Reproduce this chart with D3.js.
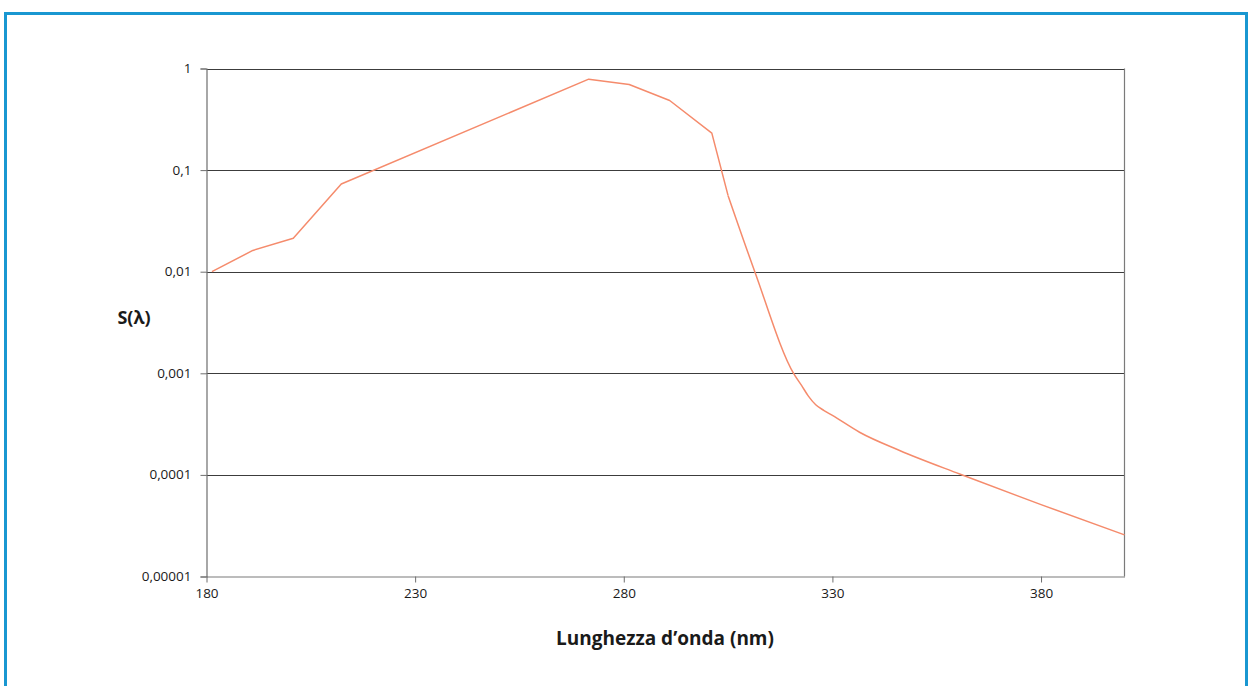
<!DOCTYPE html>
<html>
<head>
<meta charset="utf-8">
<script src="https://cdn.jsdelivr.net/npm/d3@7"></script>
<style>
  html, body { margin: 0; padding: 0; background: #fff; }
  svg { display: block; }
  text { font-family: "Open Sans", "DejaVu Sans", sans-serif; fill: #1a1a1a; }
</style>
</head>
<body>
<svg id="chart" width="1248" height="686"></svg>
<script>
// ---- data ----
const wavelength = [181.3, 191.1, 200.8, 212.3, 271.6, 281.3, 291.0, 301.1, 305.0, 311.4, 320.8, 322.6, 324.2, 326.0, 328.0, 330.0, 336.5, 346.1, 360.5, 380.0, 400.0];
const sensitivity = [0.0100, 0.0162, 0.0213, 0.073, 0.785, 0.696, 0.484, 0.231, 0.056, 0.0100, 0.00098, 0.00076, 0.00060, 0.00049, 0.00043, 0.000385, 0.000263, 0.000174, 0.000102, 0.000051, 0.0000257];
const xTicks = [180, 230, 280, 330, 380];
const yTicks = [1, 0.1, 0.01, 0.001, 0.0001, 0.00001];
const yTickLabels = ["1", "0,1", "0,01", "0,001", "0,0001", "0,00001"];
const xTitle = "Lunghezza d\u2019onda (nm)";
const yTitle = "S(\u03BB)";

const svg = d3.select("#chart");

// frame
svg.append("path")
  .attr("d", "M5.5,700 V13.5 H1246.5 V700")
  .attr("fill", "none")
  .attr("stroke", "#1997d1")
  .attr("stroke-width", 3);

const x = d3.scaleLinear().domain([180, 400]).range([206.5, 1124.5]);
const y = d3.scaleLog().domain([0.00001, 1]).range([576.5, 68.5]);

// horizontal gridlines
svg.append("g").selectAll("line").data(yTicks.slice(0, -1)).join("line")
  .attr("x1", x(180)).attr("x2", x(400))
  .attr("y1", d => Math.round(y(d)) + 0.5).attr("y2", d => Math.round(y(d)) + 0.5)
  .attr("stroke", "#3c3c3c").attr("stroke-width", 1);

// plot frame right
svg.append("line").attr("x1", x(400)).attr("x2", x(400)).attr("y1", y(1)).attr("y2", y(0.00001))
  .attr("stroke", "#7a7a7a").attr("stroke-width", 1.2);

// y axis
const yAxis = d3.axisLeft(y).tickValues(yTicks).tickSize(6).tickPadding(9)
  .tickFormat(d => yTickLabels[yTicks.indexOf(d)]);
const gy = svg.append("g").attr("transform", `translate(${x(180)},0)`).call(yAxis);
gy.select(".domain").attr("stroke", "#6e6e6e").attr("stroke-width", 1.2);
gy.selectAll(".tick line").attr("stroke", "#6e6e6e");
gy.selectAll(".tick text").style("font-size", "13.5px").attr("fill", "#1a1a1a").attr("dy", "0.3em");

// x axis
const xAxis = d3.axisBottom(x).tickValues(xTicks).tickSize(6).tickPadding(6).tickSizeOuter(0);
const gx = svg.append("g").attr("transform", `translate(0,${y(0.00001)})`).call(xAxis);
gx.select(".domain").attr("stroke", "#7a7a7a").attr("stroke-width", 1.2);
gx.selectAll(".tick line").attr("stroke", "#6e6e6e");
gx.selectAll(".tick text").style("font-size", "13.5px").attr("fill", "#1a1a1a");

// data line: straight segments up to 305 nm, smooth tail afterwards
const pts = wavelength.map((w, i) => [w, sensitivity[i]]);
const splitAt = wavelength.indexOf(305.0);
const linLine = d3.line().x(d => x(d[0])).y(d => y(d[1])).curve(d3.curveLinear);
const smoothLine = d3.line().x(d => x(d[0])).y(d => y(d[1])).curve(d3.curveMonotoneX);
[[pts.slice(0, splitAt + 1), linLine], [pts.slice(splitAt), smoothLine]].forEach(([seg, gen]) => {
  svg.append("path").datum(seg)
    .attr("d", gen)
    .attr("fill", "none")
    .attr("stroke", "#f58b6c")
    .attr("stroke-width", 1.5)
    .attr("stroke-linejoin", "round");
});

// titles
svg.append("text").text(xTitle)
  .attr("x", 665).attr("y", 645)
  .attr("text-anchor", "middle")
  .style("font-size", "19px").style("font-weight", "bold");
svg.append("text").text(yTitle)
  .attr("x", 134).attr("y", 324)
  .attr("text-anchor", "middle")
  .style("font-size", "18px").style("font-weight", "bold");
</script>
</body>
</html>
